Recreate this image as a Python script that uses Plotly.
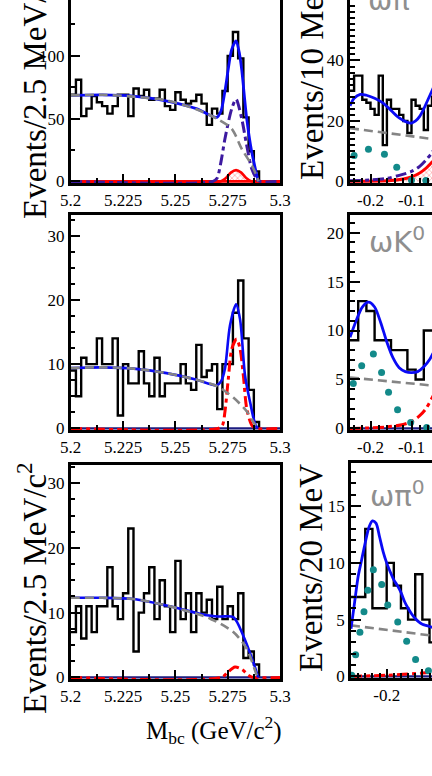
import plotly.graph_objects as go

# ---------------- data ----------------
mbc_bin_start = 5.2
mbc_bin_width = 0.0025
mbc_counts_top = [69, 81, 52, 58, 68, 63, 60, 54, 60, 69, 69, 52, 74, 68, 73, 65, 66, 73, 60, 57,
                  71, 65, 62, 64, 69, 62, 45, 58, 54, 72, 100, 119, 98, 51, 24, 8]
mbc_counts_mid = [9, 5, 11, 10, 10, 14, 10, 10, 14, 2, 10, 7, 7, 12, 7, 5, 11, 5, 7, 7,
                  7, 10, 7, 6, 13, 8, 9, 10, 3, 10, 10, 18, 23, 14, 6, 1]
mbc_counts_bot = [7, 11, 6, 11, 7, 11, 11, 17, 11, 9, 13, 23, 4, 10, 13, 17, 9, 15, 11, 7,
                  18, 9, 13, 7, 13, 10, 12, 9, 14, 9, 11, 9, 13, 3, 4, 2]

de_top_start, de_top_width = -0.25, 0.01
de_counts_top = [30, 35, 35, 27, 26, 24, 22, 35, 12, 27, 24, 24, 22, 20, 16, 27, 25, 24, 17, 25, 28, 28]
de_mid_start, de_mid_width = -0.25, 0.02
de_counts_mid = [9, 13, 12, 9, 9, 8, 8, 6, 5, 10, 10, 10]
de_bot_start, de_bot_width = -0.3, 0.02
de_counts_bot = [7, 7, 13, 6, 6, 10, 8, 6, 5, 9, 5, 3, 3]

# fit curves, top-left (omega pi+)
tl_total_x = [5.2, 5.215, 5.23, 5.246, 5.26, 5.2698, 5.2718, 5.2737, 5.2755, 5.2769, 5.279, 5.2805, 5.2817, 5.2841, 5.2865, 5.2889, 5.2895]
tl_total_y = [68.5, 69, 68, 64, 58, 51, 56, 72, 92, 105, 112, 103, 89, 50, 23.5, 5, 0]
tl_bkg_x = [5.2, 5.215, 5.23, 5.246, 5.26, 5.2698, 5.2769, 5.2817, 5.2865, 5.2889, 5.2897]
tl_bkg_y = [68.5, 69, 67.5, 64.5, 57.5, 50, 42, 26, 13, 4, 0]
tl_sig_x = [5.2, 5.268, 5.2699, 5.2718, 5.2737, 5.2769, 5.279, 5.2817, 5.2841, 5.2865, 5.2889, 5.2905, 5.3]
tl_sig_y = [0, 0, 2.5, 15.6, 34, 57.6, 65.5, 50, 28.7, 10, 2, 0, 0]
tl_cross_x = [5.2, 5.2715, 5.274, 5.2765, 5.279, 5.2815, 5.284, 5.2865, 5.3]
tl_cross_y = [0, 0, 2.5, 7, 9, 7, 2.5, 0, 0]

# middle-left (omega K0)
ml_total_x = [5.2, 5.215, 5.23, 5.2458, 5.2597, 5.2697, 5.2718, 5.2737, 5.2761, 5.279, 5.2809, 5.2833, 5.2857, 5.288, 5.2893]
ml_total_y = [9.4, 9.5, 9.3, 8.6, 7.6, 6.7, 7.3, 9.3, 16, 19.3, 17, 8.2, 4.1, 0.8, 0]
ml_bkg_x = [5.2, 5.215, 5.23, 5.2458, 5.2597, 5.2697, 5.2777, 5.284, 5.288, 5.2893]
ml_bkg_y = [9.4, 9.5, 9.3, 8.6, 7.6, 6.6, 4.8, 2.7, 0.6, 0]
ml_sig_x = [5.2, 5.2705, 5.2725, 5.2737, 5.2753, 5.277, 5.2793, 5.2809, 5.2825, 5.2841, 5.2865, 5.2885, 5.3]
ml_sig_y = [0, 0, 0.5, 2.6, 7.7, 12.4, 13.9, 12.4, 8.2, 3.1, 0.5, 0, 0]

# bottom-left (omega pi0)
bl_total_x = [5.2, 5.215, 5.23, 5.2458, 5.265, 5.2713, 5.2777, 5.2825, 5.2872, 5.2896]
bl_total_y = [12.3, 12.3, 12.1, 11.1, 9.6, 9.4, 9.3, 6.4, 2.4, 0]
bl_bkg_x = [5.2, 5.215, 5.23, 5.2458, 5.2665, 5.2777, 5.284, 5.2888, 5.2893]
bl_bkg_y = [12.3, 12.3, 12.1, 11.1, 9.1, 7, 4.5, 0.4, 0]
bl_sig_x = [5.2, 5.272, 5.275, 5.2785, 5.282, 5.285, 5.287, 5.3]
bl_sig_y = [0, 0, 0.8, 1.6, 1.2, 0.3, 0, 0]

# top-right (Delta E, omega pi+)
tr_total_x = [-0.25, -0.24, -0.225, -0.21, -0.19, -0.17, -0.15, -0.13, -0.11, -0.1, -0.09, -0.08, -0.07, -0.06, -0.05, -0.04]
tr_total_y = [25, 27.5, 28.8, 28.5, 27.5, 26, 23.5, 21, 19.5, 19.3, 20, 21.5, 24, 27, 30, 33]
tr_bkg_x = [-0.25, -0.03]
tr_bkg_y = [17.6, 13.7]
tr_feed_x = [-0.24, -0.205, -0.166, -0.136, -0.1, -0.065]
tr_feed_y = [8.6, 10.6, 9, 4.7, 0.4, 0.3]
tr_sig_x = [-0.25, -0.2, -0.16, -0.13, -0.1, -0.08, -0.06, -0.05, -0.04]
tr_sig_y = [0.2, 0.5, 1, 2, 3.3, 5, 7.8, 9.5, 12]
tr_cross_x = [-0.25, -0.15, -0.12, -0.1, -0.08, -0.065, -0.05, -0.04]
tr_cross_y = [0, 0.3, 0.8, 1.5, 2.8, 4.3, 6.4, 8]

# middle-right (omega K0)
mr_total_x = [-0.25, -0.235, -0.22, -0.205, -0.19, -0.175, -0.16, -0.145, -0.13, -0.115, -0.1, -0.085, -0.07, -0.055, -0.04]
mr_total_y = [9.3, 11, 12.4, 12.9, 12.4, 10.8, 8.8, 7.2, 6.2, 5.8, 5.7, 5.8, 6.3, 7.1, 8.3]
mr_bkg_x = [-0.25, -0.03]
mr_bkg_y = [5.2, 4.3]
mr_feed_x = [-0.242, -0.2215, -0.193, -0.173, -0.156, -0.134, -0.102, -0.063]
mr_feed_y = [4.6, 6.4, 7.6, 5.7, 3.7, 1.9, 0.6, 0.1]
mr_sig_x = [-0.25, -0.2, -0.16, -0.12, -0.1, -0.08, -0.065, -0.05, -0.04]
mr_sig_y = [0, 0.05, 0.15, 0.4, 0.7, 1.3, 2, 3.1, 4]

# bottom-right (omega pi0)
br_total_x = [-0.3, -0.29, -0.28, -0.27, -0.26, -0.25, -0.24, -0.23, -0.22, -0.21, -0.2, -0.19, -0.18, -0.17, -0.16, -0.15, -0.14, -0.13, -0.12, -0.11, -0.1, -0.09, -0.08, -0.07]
br_total_y = [4.2, 6.5, 8.8, 10.3, 11.8, 13.1, 13.7, 13.5, 12.3, 11, 10, 9.2, 8.5, 8, 7.4, 6.6, 6, 5.5, 5.1, 4.8, 4.6, 4.5, 4.4, 4.3]
br_bkg_x = [-0.3, -0.05]
br_bkg_y = [4.5, 3.5]
br_feed_x = [-0.298, -0.287, -0.275, -0.2636, -0.253, -0.2374, -0.214, -0.197, -0.169, -0.144, -0.119, -0.083]
br_feed_y = [0.1, 1.9, 3.9, 5.7, 7.6, 9.4, 8.1, 6.3, 4.8, 3.1, 1.5, 0.5]
br_sig_x = [-0.3, -0.2, -0.1, -0.05]
br_sig_y = [0, 0.1, 0.3, 0.45]

mbc_tickvals = [5.2, 5.225, 5.25, 5.275, 5.3]
mbc_ticktext = ["5.2", "5.225", "5.25", "5.275", "5.3"]
de_tickvals = [-0.2, -0.1]
de_ticktext = ["-0.2", "-0.1"]

# ---------------- layout constants ----------------
W, H = 432, 776
BLUE = "#0a0af5"
GRAY = "#858585"
RED = "#ff0000"
PURPLE = "#3d1aa0"
NAVY = "#1c1c80"
TEAL = "#138a8a"
SERIF = "Liberation Serif"


def fx(p):
    return p / W


def fy(p):
    return 1 - p / H


fig = go.Figure()


def hist(counts, start, width, ax, drop=True):
    xs = [start + i * width for i in range(len(counts) + 1)]
    ys = list(counts) + [counts[-1]]
    if drop:
        xs.append(xs[-1])
        ys.append(0)
    fig.add_trace(go.Scatter(x=xs, y=ys, mode="lines", line=dict(color="black", width=2.4, shape="hv"),
                             xaxis="x" + ax, yaxis="y" + ax, showlegend=False, hoverinfo="skip"))


def curve(x, y, ax, color, width=2.6, dash="solid", smooth=True, fillpat=False):
    kw = {}
    if fillpat:
        kw = dict(fill="tozeroy", fillcolor="rgba(0,0,0,0)",
                  fillpattern=dict(shape="x", fgcolor=color, bgcolor="rgba(0,0,0,0)", size=4, solidity=0.25))
    fig.add_trace(go.Scatter(x=x, y=y, mode="lines",
                             line=dict(color=color, width=width, dash=dash,
                                       shape="spline" if smooth else "linear", smoothing=0.8),
                             xaxis="x" + ax, yaxis="y" + ax, showlegend=False, hoverinfo="skip", **kw))


def dots(x, y, ax, color):
    fig.add_trace(go.Scatter(x=x, y=y, mode="markers", marker=dict(color=color, size=7),
                             xaxis="x" + ax, yaxis="y" + ax, showlegend=False, hoverinfo="skip"))


DASHDOT = "11px,4px,4px,4px"
DASH = "9px,5px"

# panel 1 (top-left)
hist(mbc_counts_top, mbc_bin_start, mbc_bin_width, "")
curve([5.2, 5.3], [0, 0], "", RED, width=2.6, smooth=False)
curve(tl_cross_x, tl_cross_y, "", RED, width=2.6, fillpat=True)
curve(tl_sig_x, tl_sig_y, "", PURPLE, width=3, dash=DASHDOT)
curve(tl_total_x, tl_total_y, "", BLUE, width=2.8)
curve(tl_bkg_x, tl_bkg_y, "", GRAY, width=2.6, dash=DASH)

# panel 2 (middle-left)
hist(mbc_counts_mid, mbc_bin_start, mbc_bin_width, "2")
curve([5.2, 5.3], [0, 0], "2", NAVY, width=2.4, smooth=False)
curve(ml_sig_x, ml_sig_y, "2", RED, width=3, dash=DASHDOT)
curve(ml_total_x, ml_total_y, "2", BLUE, width=2.6)
curve(ml_bkg_x, ml_bkg_y, "2", GRAY, width=2.6, dash=DASH)

# panel 3 (bottom-left)
hist(mbc_counts_bot, mbc_bin_start, mbc_bin_width, "3")
curve([5.2, 5.3], [0, 0], "3", NAVY, width=2.4, smooth=False)
curve(bl_sig_x, bl_sig_y, "3", RED, width=3, dash=DASHDOT)
curve(bl_total_x, bl_total_y, "3", BLUE, width=2.6)
curve(bl_bkg_x, bl_bkg_y, "3", GRAY, width=2.6, dash=DASH)

# panel 4 (top-right)
hist(de_counts_top, de_top_start, de_top_width, "4", drop=False)
curve(tr_cross_x, tr_cross_y, "4", RED, width=2.8, fillpat=True)
curve(tr_sig_x, tr_sig_y, "4", PURPLE, width=3, dash=DASHDOT)
dots(tr_feed_x, tr_feed_y, "4", TEAL)
curve(tr_bkg_x, tr_bkg_y, "4", GRAY, width=2.6, dash=DASH, smooth=False)
curve(tr_total_x, tr_total_y, "4", BLUE, width=2.8)

# panel 5 (middle-right)
hist(de_counts_mid, de_mid_start, de_mid_width, "5", drop=False)
curve([-0.25, 0.0], [0, 0], "5", NAVY, width=2.4, smooth=False)
curve(mr_sig_x, mr_sig_y, "5", RED, width=3, dash=DASHDOT)
dots(mr_feed_x, mr_feed_y, "5", TEAL)
curve(mr_bkg_x, mr_bkg_y, "5", GRAY, width=2.6, dash=DASH, smooth=False)
curve(mr_total_x, mr_total_y, "5", BLUE, width=2.8)

# panel 6 (bottom-right)
hist(de_counts_bot, de_bot_start, de_bot_width, "6", drop=False)
curve([-0.3, 0.0], [0, 0], "6", NAVY, width=2.4, smooth=False)
curve(br_sig_x, br_sig_y, "6", RED, width=3, dash=DASHDOT)
dots(br_feed_x, br_feed_y, "6", TEAL)
curve(br_bkg_x, br_bkg_y, "6", GRAY, width=2.6, dash=DASH, smooth=False)
curve(br_total_x, br_total_y, "6", BLUE, width=2.8)

tickfont = dict(family=SERIF, size=17, color="black")


def xax(domain, rng, tv, tt, anchor, mirror, minor_dt, tick0):
    return dict(domain=domain, range=rng, anchor=anchor, showline=True, linecolor="black", linewidth=2.5,
                mirror=mirror, ticks="inside", ticklen=9, tickwidth=2, tickcolor="black", automargin=False,
                tickmode="array", tickvals=tv, ticktext=tt, tickfont=tickfont, showgrid=False, zeroline=False,
                minor=dict(ticks="inside", ticklen=5, tickwidth=1.5, tickcolor="black",
                           tickmode="linear", tick0=tick0, dtick=minor_dt, showgrid=False))


def yax(domain, top, px_per_unit, dt, anchor, mirror, minor_dt):
    lo = -1.6 / px_per_unit  # lift the zero line just clear of the frame
    return dict(domain=domain, range=[lo, top], anchor=anchor, showline=True, linecolor="black", linewidth=2.5,
                mirror=mirror, ticks="inside", ticklen=10, tickwidth=2, tickcolor="black", automargin=False,
                tickmode="linear", tick0=0, dtick=dt, tickfont=tickfont, showgrid=False, zeroline=False,
                minor=dict(ticks="inside", ticklen=5, tickwidth=1.5, tickcolor="black",
                           tickmode="linear", tick0=0, dtick=minor_dt, showgrid=False))


LX = [fx(70.7), fx(280)]
RX = [fx(350), 1.0]
RX6 = [fx(351), 1.0]
Y1 = [fy(183), 1.0]
Y2 = [fy(430), fy(215)]
Y3 = [fy(679), fy(465)]
Y6 = [fy(678), fy(463)]

layout = dict(
    width=W, height=H, margin=dict(l=0, r=0, t=0, b=0, pad=0, autoexpand=False),
    paper_bgcolor="white", plot_bgcolor="white", showlegend=False,
    xaxis=xax(LX, [5.2, 5.3], mbc_tickvals, mbc_ticktext, "y", False, 0.0125, 5.2),
    yaxis=yax(Y1, 144.5, 1.267, 50, "x", True, 25),
    xaxis2=xax(LX, [5.2, 5.3], mbc_tickvals, mbc_ticktext, "y2", True, 0.0125, 5.2),
    yaxis2=yax(Y2, 33.2, 6.47, 10, "x2", True, 2.5),
    xaxis3=xax(LX, [5.2, 5.3], mbc_tickvals, mbc_ticktext, "y3", True, 0.0125, 5.2),
    yaxis3=yax(Y3, 32.8, 6.53, 10, "x3", True, 2.5),
    xaxis4=xax(RX, [-0.25, -0.05], de_tickvals, de_ticktext, "y4", False, 0.02, 0),
    yaxis4=yax(Y1, 60, 3.05, 20, "x4", False, 2),
    xaxis5=xax(RX, [-0.25, -0.05], de_tickvals, de_ticktext, "y5", True, 0.02, 0),
    yaxis5=yax(Y2, 21.8, 9.85, 5, "x5", False, 1),
    xaxis6=xax(RX6, [-0.3, -0.073], de_tickvals, de_ticktext, "y6", True, 0.02, 0),
    yaxis6=yax(Y6, 18.8, 11.4, 5, "x6", False, 1),
)
fig.update_layout(**layout)

title_font = dict(family=SERIF, size=33, color="black")
label_font = dict(family="DejaVu Sans", size=29, color="#8f8f8f")
annots = [
    dict(text="Events/2.5 MeV/c<sup>2</sup>", x=fx(32), y=fy(93), textangle=-90, font=title_font),
    dict(text="Events/2.5 MeV/c<sup>2</sup>", x=fx(32), y=fy(588), textangle=-90, font=title_font),
    dict(text="Events/10 MeV", x=fx(312), y=fy(76), textangle=-90, font=title_font),
    dict(text="Events/20 MeV", x=fx(311), y=fy(568), textangle=-90, font=title_font),
    dict(text="M<sub>bc</sub> (GeV/c<sup>2</sup>)", x=fx(214), y=fy(730), font=dict(family=SERIF, size=25, color="black")),
    dict(text="ωπ<sup>+</sup>", x=fx(397), y=fy(-2), font=label_font),
    dict(text="ωK<sup>0</sup>", x=fx(397), y=fy(240), font=label_font),
    dict(text="ωπ<sup>0</sup>", x=fx(397), y=fy(494), font=label_font),
    dict(text="150", x=fx(66), y=fy(-6), xanchor="right", font=tickfont),
]
for a in annots:
    a.setdefault("xanchor", "center")
    a.update(xref="paper", yref="paper", showarrow=False, yanchor="middle")
fig.update_layout(annotations=annots)

fig.write_html("out.html", config={"displayModeBar": False},
               post_script="document.body.style.margin='0px';document.body.style.overflow='hidden';")
